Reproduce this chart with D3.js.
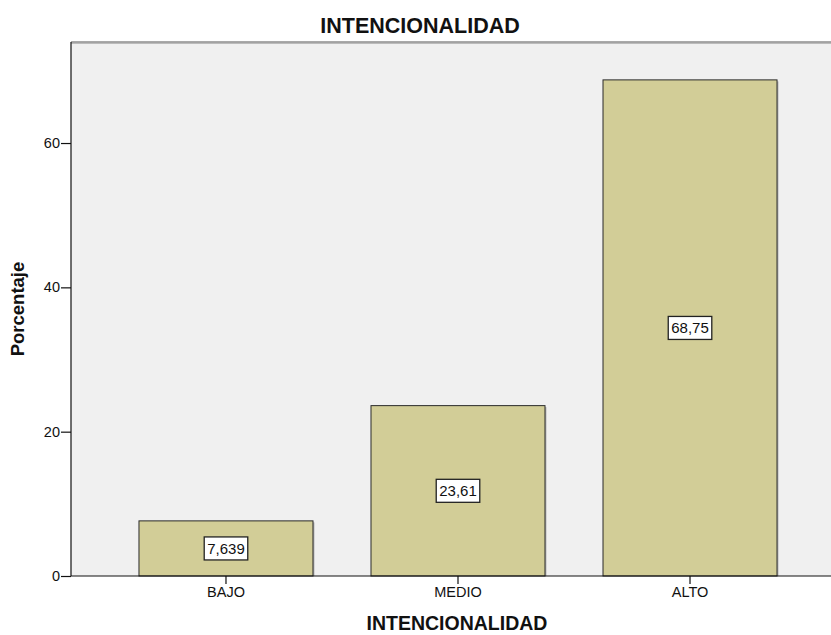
<!DOCTYPE html>
<html>
<head>
<meta charset="utf-8">
<script src="https://cdn.jsdelivr.net/npm/d3@7/dist/d3.min.js"></script>
<style>
  html, body { margin: 0; padding: 0; background: #ffffff; }
  svg { display: block; font-family: Arial, "Liberation Sans", sans-serif; }
</style>
</head>
<body>
<svg id="chart" width="831" height="635"></svg>
<script>
// Intencionalidad: percentage per level
const categories = ["BAJO", "MEDIO", "ALTO"];
const percentages = [7.639, 23.61, 68.75];
const valueLabels = ["7,639", "23,61", "68,75"];
const yTicks = [0, 20, 40, 60];

const svg = d3.select("#chart");
const plot = { left: 71, right: 845, top: 42, bottom: 576 };
const font = "Arial, 'Liberation Sans', sans-serif";

const x = d3.scaleBand()
  .domain(categories)
  .range([plot.left, plot.right])
  .paddingInner(0.25)
  .paddingOuter(0.293);

const y = d3.scaleLinear()
  .domain([0, 74])
  .range([plot.bottom, plot.top]);

// plot background
svg.append("rect")
  .attr("x", plot.left).attr("y", plot.top)
  .attr("width", plot.right - plot.left).attr("height", plot.bottom - plot.top)
  .attr("fill", "#f0f0f0");

// frame top edge
svg.append("line")
  .attr("x1", plot.left).attr("x2", plot.right)
  .attr("y1", plot.top).attr("y2", plot.top)
  .attr("stroke", "#555").attr("stroke-width", 1.2);
svg.append("line")
  .attr("x1", plot.left).attr("x2", plot.right)
  .attr("y1", plot.top + 1.5).attr("y2", plot.top + 1.5)
  .attr("stroke", "#bbb").attr("stroke-width", 1);

// bars: soft shadow then bar
const bars = svg.append("g");
bars.selectAll("rect.shadow")
  .data(percentages)
  .join("rect")
  .attr("class", "shadow")
  .attr("x", (d, i) => x(categories[i]) + 1.5)
  .attr("y", d => y(d) + 1.5)
  .attr("width", x.bandwidth())
  .attr("height", d => y(0) - y(d) - 1.5)
  .attr("fill", "#b8b8b8");
bars.selectAll("rect.bar")
  .data(percentages)
  .join("rect")
  .attr("class", "bar")
  .attr("x", (d, i) => x(categories[i]))
  .attr("y", d => y(d))
  .attr("width", x.bandwidth())
  .attr("height", d => y(0) - y(d))
  .attr("fill", "#d2cd97")
  .attr("stroke", "#2a2a2a")
  .attr("stroke-width", 1);

// value labels in boxes at bar mid-height
const labels = svg.append("g");
percentages.forEach((v, i) => {
  const cx = x(categories[i]) + x.bandwidth() / 2;
  const cy = y(v / 2);
  const g = labels.append("g");
  const t = g.append("text")
    .attr("x", cx).attr("y", cy)
    .attr("text-anchor", "middle")
    .attr("dominant-baseline", "central")
    .attr("font-size", 15)
    .attr("fill", "#111")
    .text(valueLabels[i]);
  const bb = t.node().getBBox();
  g.insert("rect", "text")
    .attr("x", bb.x - 3).attr("y", cy - 11.5)
    .attr("width", bb.width + 6).attr("height", 23)
    .attr("fill", "#ffffff")
    .attr("stroke", "#222").attr("stroke-width", 1.3);
});

// axes
const yAxis = svg.append("g")
  .attr("transform", `translate(${plot.left},0)`)
  .call(d3.axisLeft(y).tickValues(yTicks).tickSize(10).tickPadding(1));
const xAxis = svg.append("g")
  .attr("transform", `translate(0,${plot.bottom})`)
  .call(d3.axisBottom(x).tickSize(8).tickPadding(3));
[yAxis, xAxis].forEach(a => {
  a.select(".domain").attr("stroke", "#111").attr("stroke-width", 1.2);
  a.selectAll(".tick line").attr("stroke", "#111").attr("stroke-width", 1.2);
  a.selectAll(".tick text").attr("font-size", 14.5).attr("fill", "#111")
    .attr("font-family", font);
});
// axis lines span the plot without outer ticks
yAxis.select(".domain").attr("d", `M0,${plot.top}V${plot.bottom}`);
xAxis.select(".domain").attr("d", `M${plot.left},0H${plot.right}`);

// titles
svg.append("text")
  .attr("x", 420).attr("y", 33)
  .attr("text-anchor", "middle")
  .attr("font-size", 21.5).attr("font-weight", "bold").attr("fill", "#111")
  .text("INTENCIONALIDAD");
svg.append("text")
  .attr("x", 457).attr("y", 630)
  .attr("text-anchor", "middle")
  .attr("font-size", 19.5).attr("font-weight", "bold").attr("fill", "#111")
  .text("INTENCIONALIDAD");
svg.append("text")
  .attr("transform", `translate(24,${(plot.top + plot.bottom) / 2}) rotate(-90)`)
  .attr("text-anchor", "middle")
  .attr("font-size", 18.5).attr("font-weight", "bold").attr("fill", "#111")
  .text("Porcentaje");
</script>
</body>
</html>
